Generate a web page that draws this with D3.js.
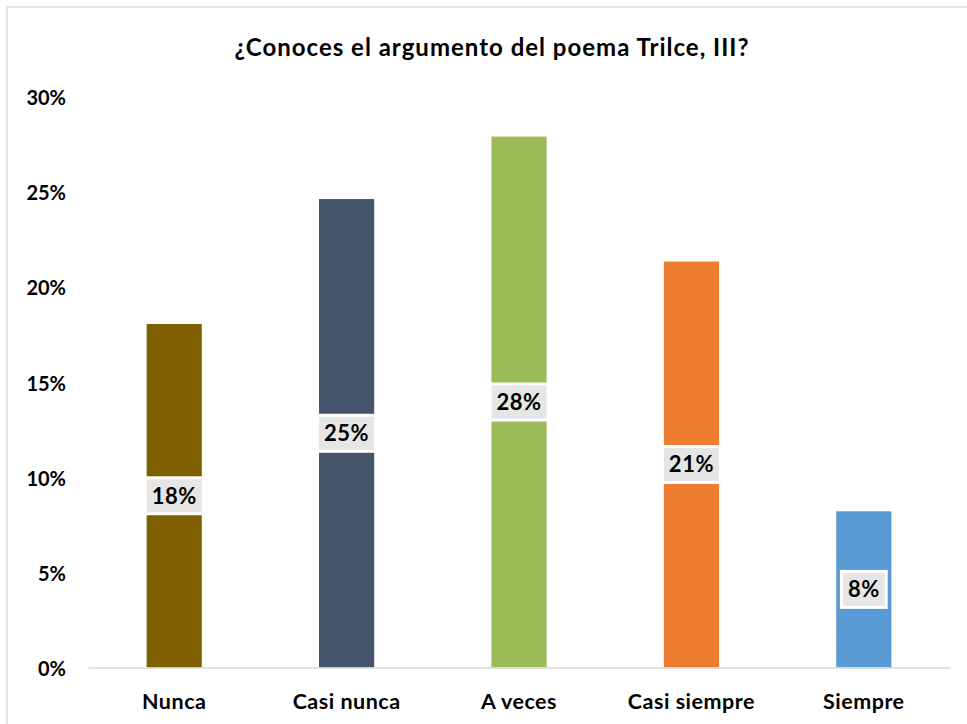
<!DOCTYPE html>
<html lang="es">
<head>
<meta charset="UTF-8">
<title>¿Conoces el argumento del poema Trilce, III?</title>
<style>
    body { margin: 0; background: #fff; }
    text { font-family: Lato, "Open Sans", sans-serif; font-weight: bold; fill: #000; }
</style>
</head>
<body>
<svg width="967" height="724"></svg>
<script src="https://cdn.jsdelivr.net/npm/d3@7/dist/d3.min.js"></script>
<script>
    var TITLE = "¿Conoces el argumento del poema Trilce, III?";
    var categories = ["Nunca", "Casi nunca", "A veces", "Casi siempre", "Siempre"];
    var values = [18.03, 24.59, 27.87, 21.31, 8.20];
    var colors = ["#7F6000", "#44546A", "#9BBB59", "#ED7D31", "#5B9BD5"];
    var yTicks = [0, 5, 10, 15, 20, 25, 30];

    var svg = d3.select("svg");

    // chart frame (only top/left visible in the capture)
    svg.append("rect")
        .attr("x", 7).attr("y", 7)
        .attr("width", 980).attr("height", 740)
        .attr("fill", "none")
        .attr("stroke", "#D9D9D9")
        .attr("stroke-width", 1.5);

    var x = d3.scaleBand()
        .domain(categories)
        .range([88, 950])
        .paddingInner(0.68)
        .paddingOuter(0.34);

    var y = d3.scaleLinear()
        .domain([0, 30])
        .range([667.5, 96]);

    svg.append("text")
        .attr("x", 492)
        .attr("y", 56)
        .attr("text-anchor", "middle")
        .attr("font-size", 24)
        .attr("letter-spacing", 1)
        .text(TITLE);

    // y axis labels, no line
    var yAxis = svg.append("g")
        .attr("transform", "translate(66,2)")
        .call(d3.axisLeft(y).tickValues(yTicks).tickSize(0).tickPadding(0)
            .tickFormat(function(d) { return d + "%"; }));
    yAxis.select(".domain").remove();
    yAxis.selectAll("text")
        .attr("font-size", 20)
        .attr("font-family", "Lato, sans-serif")
        .attr("font-weight", "bold")
        .attr("fill", "#000");

    // bars
    svg.selectAll(".bar")
        .data(values)
        .enter()
        .append("rect")
        .attr("class", "bar")
        .attr("x", function(d, i) { return x(categories[i]); })
        .attr("y", function(d) { return y(d); })
        .attr("width", x.bandwidth())
        .attr("height", function(d) { return y(0) - y(d); })
        .attr("fill", function(d, i) { return colors[i]; });

    // x axis line + labels
    var xAxis = svg.append("g")
        .attr("transform", "translate(0," + y(0) + ")")
        .call(d3.axisBottom(x).tickSize(0).tickPadding(0));
    xAxis.select(".domain")
        .attr("stroke", "#D9D9D9")
        .attr("stroke-width", 1.5);
    xAxis.selectAll("text")
        .attr("dy", 0)
        .attr("y", 41)
        .attr("font-size", 21.5)
        .attr("letter-spacing", 0.5)
        .attr("font-family", "Lato, sans-serif")
        .attr("font-weight", "bold")
        .attr("fill", "#000");

    // value labels with boxes
    var lab = svg.selectAll(".lab")
        .data(values)
        .enter()
        .append("g")
        .attr("class", "lab")
        .attr("transform", function(d, i) {
            return "translate(" + (x(categories[i]) + x.bandwidth() / 2) + "," + ((y(d) + y(0)) / 2) + ")";
        });

    lab.append("text")
        .attr("text-anchor", "middle")
        .attr("dy", "0.36em")
        .attr("font-size", 22)
        .attr("letter-spacing", 0.5)
        .text(function(d) { return Math.round(d) + "%"; });

    lab.insert("rect", "text")
        .each(function() {
            var w = this.parentNode.querySelector("text").getBBox().width + 13;
            d3.select(this)
                .attr("x", -w / 2)
                .attr("y", -18)
                .attr("width", w)
                .attr("height", 36);
        })
        .attr("fill", "#E6E6E6")
        .attr("stroke", "#fff")
        .attr("stroke-width", 3);
</script>
</body>
</html>
